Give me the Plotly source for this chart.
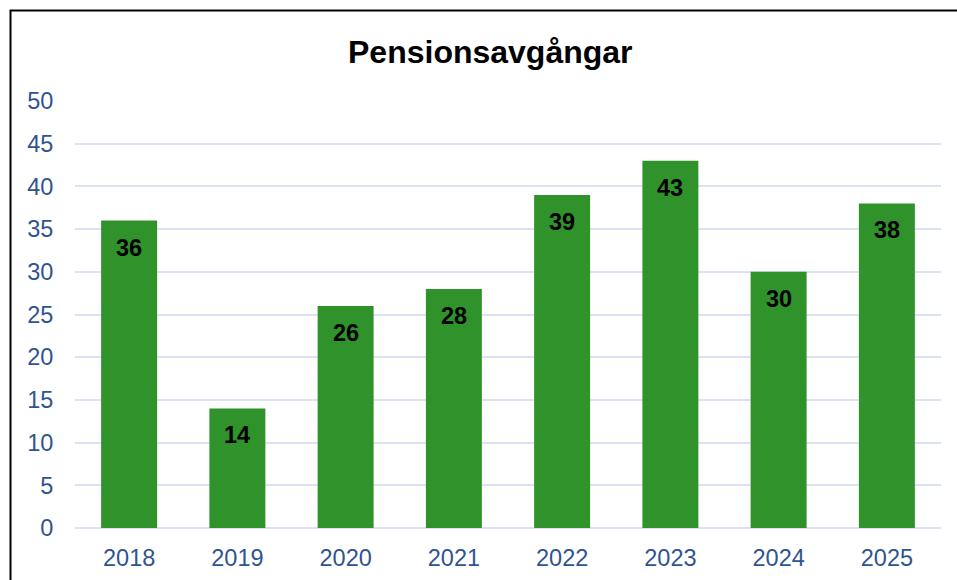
import plotly.graph_objects as go

years = ["2018", "2019", "2020", "2021", "2022", "2023", "2024", "2025"]
retirements = [36, 14, 26, 28, 39, 43, 30, 38]
title_text = "Pensionsavgångar"

W, H = 957, 580
L, R, T, B = 75, 16, 101, 52
pw = W - L - R
ph = H - T - B

fig = go.Figure()
fig.add_trace(go.Bar(
    x=years, y=retirements,
    marker=dict(color="#30922a", line=dict(width=0)),
    hoverinfo="x+y",
))

for i, v in enumerate(retirements):
    fig.add_annotation(x=i, y=v, text=f"<b>{v}</b>", showarrow=False,
                       yshift=-27, font=dict(family="Liberation Sans, Arial", size=23.5, color="black"))

fig.add_annotation(xref="paper", yref="paper", x=(490 - L) / pw, y=(H - B - 52) / ph,
                   text=f"<b>{title_text}</b>", showarrow=False, xanchor="center", yanchor="middle",
                   font=dict(family="Liberation Sans, Arial", size=32, color="black"))

# outer border
fig.add_shape(type="rect", xref="paper", yref="paper",
              x0=(10.5 - L) / pw, x1=(980 - L) / pw,
              y0=(H - B - 600) / ph, y1=(H - B - 10.5) / ph,
              line=dict(color="black", width=2), fillcolor="rgba(0,0,0,0)", layer="above")

fig.update_layout(
    width=W, height=H,
    margin=dict(l=L, r=R, t=T, b=B, pad=0, autoexpand=False),
    paper_bgcolor="white", plot_bgcolor="white",
    showlegend=False,
    bargap=0.483,
    font=dict(family="Liberation Sans, Arial", size=23.5, color="#2f5490"),
    xaxis=dict(type="category", range=[-0.5, 7.5], showgrid=False, showline=False,
               automargin=False,
               ticks="outside", ticklen=9, tickcolor="white",
               tickfont=dict(size=23.5, color="#2f5490")),
    yaxis=dict(range=[0, 50], dtick=5, showgrid=True, gridcolor="#d9e3f3", gridwidth=2,
               automargin=False,
               zeroline=True, zerolinecolor="#d9e3f3", zerolinewidth=2, showline=False,
               ticks="outside", ticklen=16, tickcolor="white",
               tickfont=dict(size=23.5, color="#2f5490")),
)

fig.write_html("out.html", config={"displayModeBar": False},
               post_script="document.body.style.margin='0';")
